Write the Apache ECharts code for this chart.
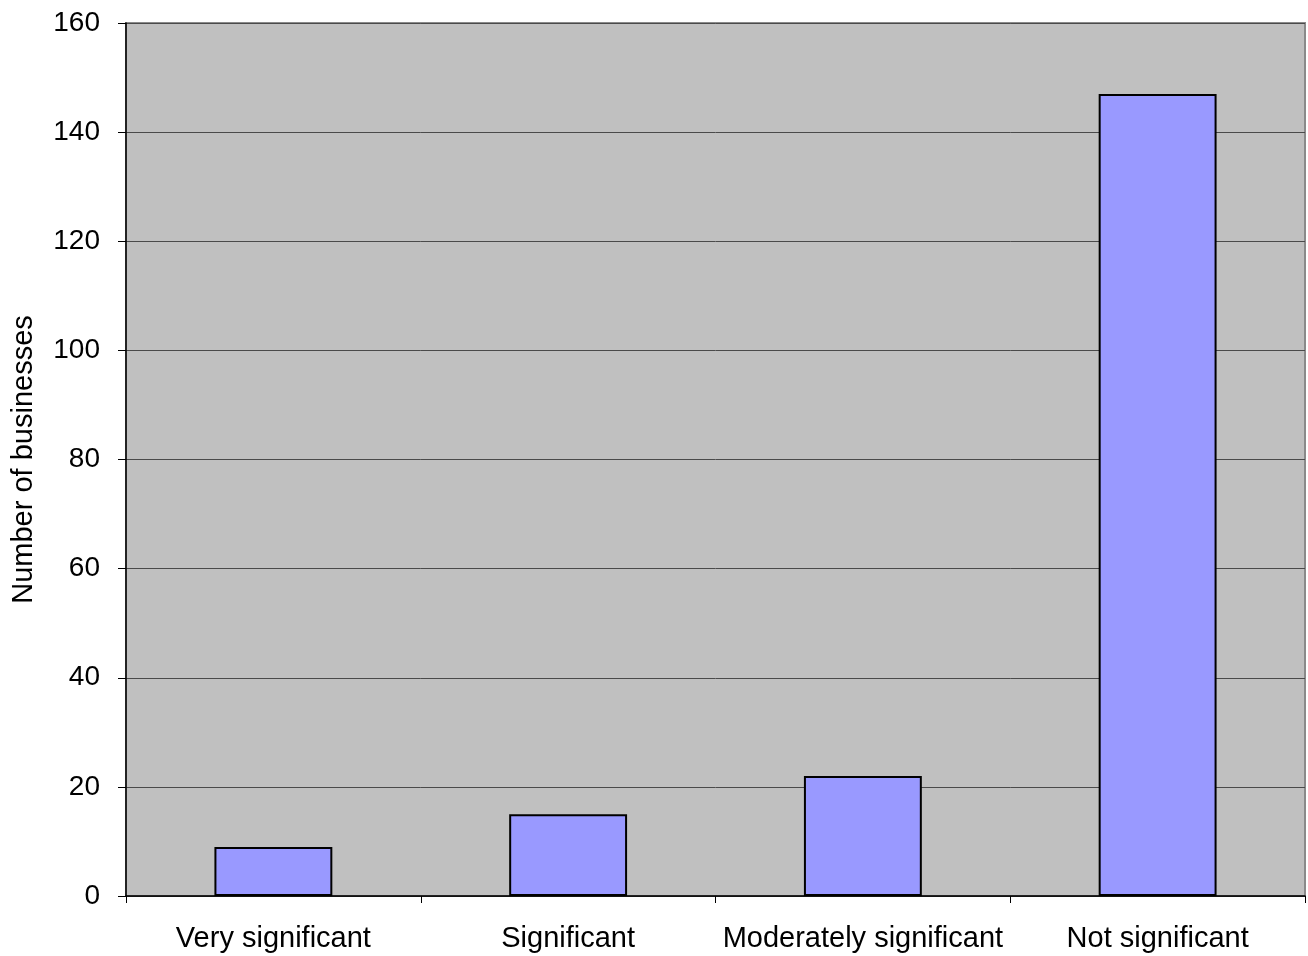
<!DOCTYPE html>
<html>
<head>
<meta charset="utf-8">
<script src="https://cdn.jsdelivr.net/npm/echarts@6/dist/echarts.min.js"></script>
<style>
html, body { margin: 0; padding: 0; background: #fff; }
#grafico { width: 1308px; height: 956px; }
</style>
</head>
<body>
<div id="grafico"></div>
<script>
var categorias = ["Very significant", "Significant", "Moderately significant", "Not significant"];
var cantidades = [9, 15, 22, 147];
var ejeY = { min: 0, max: 160, interval: 20 };

var myChart = echarts.init(document.getElementById("grafico"));
var option = {
    animation: false,
    textStyle: { fontFamily: "Liberation Sans, Arial, sans-serif" },
    grid: {
        show: true,
        left: 126,
        right: 3,
        top: 23,
        bottom: 60,
        containLabel: false,
        outerBoundsMode: "none",
        backgroundColor: "#c0c0c0",
        borderColor: "#8a8a8a",
        borderWidth: 2
    },
    xAxis: {
        type: "category",
        data: categorias,
        boundaryGap: true,
        axisLine: { lineStyle: { color: "#000", width: 1.5 } },
        axisTick: { show: true, length: 7, interval: 0, lineStyle: { color: "#000" } },
        axisLabel: { color: "#000", fontSize: 29, margin: 28, interval: 0 }
    },
    yAxis: {
        type: "value",
        min: ejeY.min,
        max: ejeY.max,
        interval: ejeY.interval,
        name: "Number of businesses",
        nameLocation: "middle",
        nameGap: 88,
        nameTextStyle: { color: "#000", fontSize: 29 },
        axisLine: { show: true, lineStyle: { color: "#000", width: 1.5 } },
        axisTick: { show: true, length: 8, lineStyle: { color: "#000" } },
        axisLabel: { color: "#000", fontSize: 28, margin: 26 },
        splitLine: { show: true, lineStyle: { color: "#4a4a4a", width: 1 } }
    },
    series: [{
        type: "bar",
        data: cantidades,
        barWidth: "40%",
        itemStyle: { color: "#9999ff", borderColor: "#000", borderWidth: 2 }
    }]
};
myChart.setOption(option, true);
</script>
</body>
</html>
